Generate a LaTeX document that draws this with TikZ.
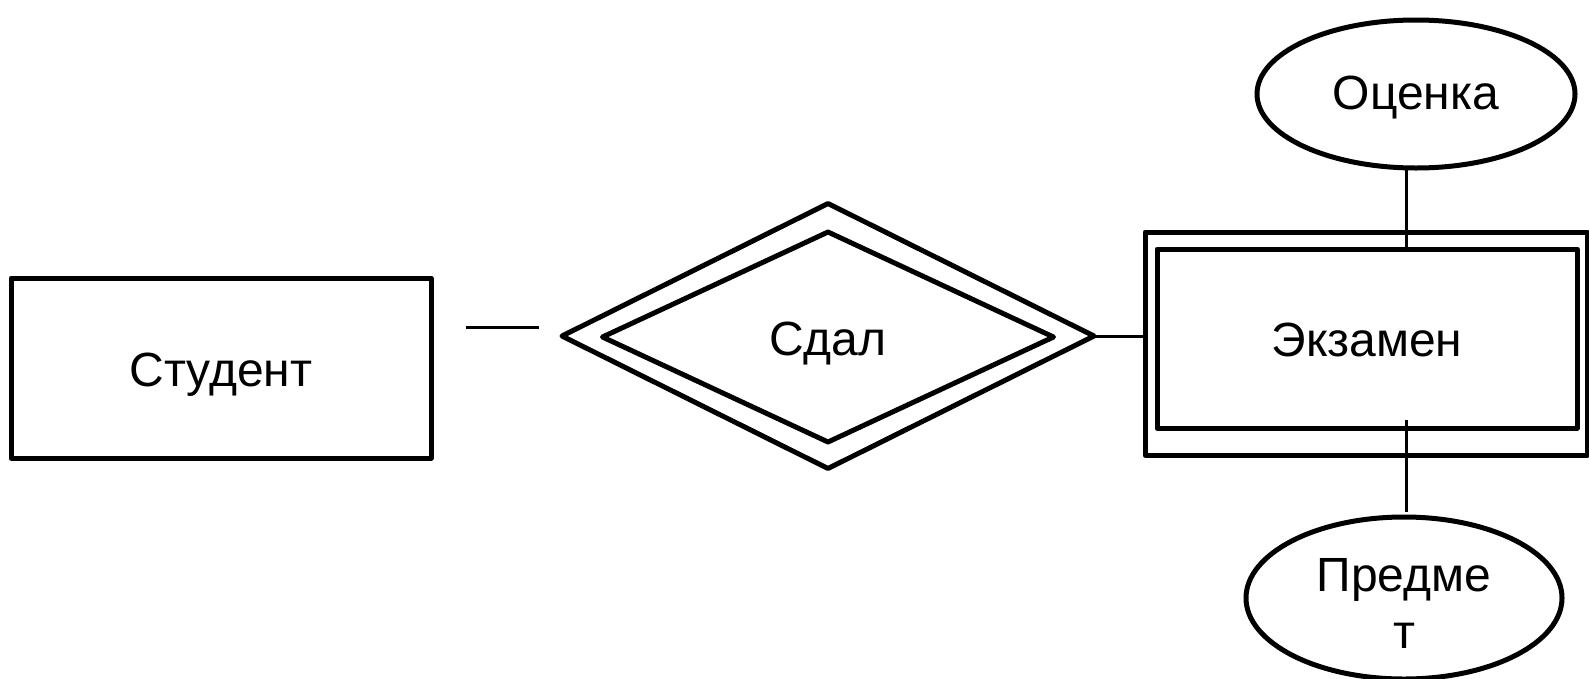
\documentclass[tikz,border=0pt]{standalone}
\usepackage{fontspec}
\setmainfont{Liberation Sans}
\usetikzlibrary{shapes.geometric}
\begin{document}
\begin{tikzpicture}[x=1pt,y=-1pt,
  every node/.style={font=\fontsize{48}{57}\selectfont, inner sep=0pt, outer sep=0pt},
  shapeline/.style={draw=black, line width=5pt, line join=round},
  link/.style={draw=black, line width=3pt},
  entbox/.style={shapeline, rectangle},
  relshape/.style={shapeline, diamond},
  attr/.style={shapeline, ellipse}]
\useasboundingbox (0,0) rectangle (1589,678);

% entity: Студент
\node[entbox, minimum width=420pt, minimum height=180pt] (stud) at (221,368) {};
\node (studtxt) at (221,375) {Студент};

% weak relationship: Сдал
\node[relshape, minimum width=532pt, minimum height=265pt] (relout) at (828,336) {};
\node[relshape, minimum width=451pt, minimum height=210pt] (relin) at (828,337) {};
\node (reltxt) at (828,344) {Сдал};

% weak entity: Экзамен
\node[entbox, minimum width=442pt, minimum height=223pt] (exout) at (1366,343.5) {};
\node[entbox, minimum width=420pt, minimum height=179pt] (exin) at (1367,338.5) {};
\node (extxt) at (1367,340) {Экзамен};

% attributes
\node[attr, minimum width=318pt, minimum height=148pt] (grade) at (1416,94) {};
\node (gradetxt) at (1416,98) {Оценка};
\node[attr, minimum width=316pt, minimum height=162pt] (subj) at (1404,598) {};
\node[align=center] (subjtxt) at (1404,603) {Предме\\т};

% connectors
\coordinate (sa) at (466,327);
\coordinate (sb) at (539,327);
\draw[link] (sa) -- (sb);
\draw[link] (relout.east) -- (relout.east -| exout.west);
\coordinate (gtop) at (1406,170);
\coordinate (gbot) at (1406,249);
\draw[link] (gtop) -- (gbot);
\coordinate (ptop) at (1406,420);
\coordinate (pbot) at (1406,512);
\draw[link] (ptop) -- (pbot);
\end{tikzpicture}
\end{document}
